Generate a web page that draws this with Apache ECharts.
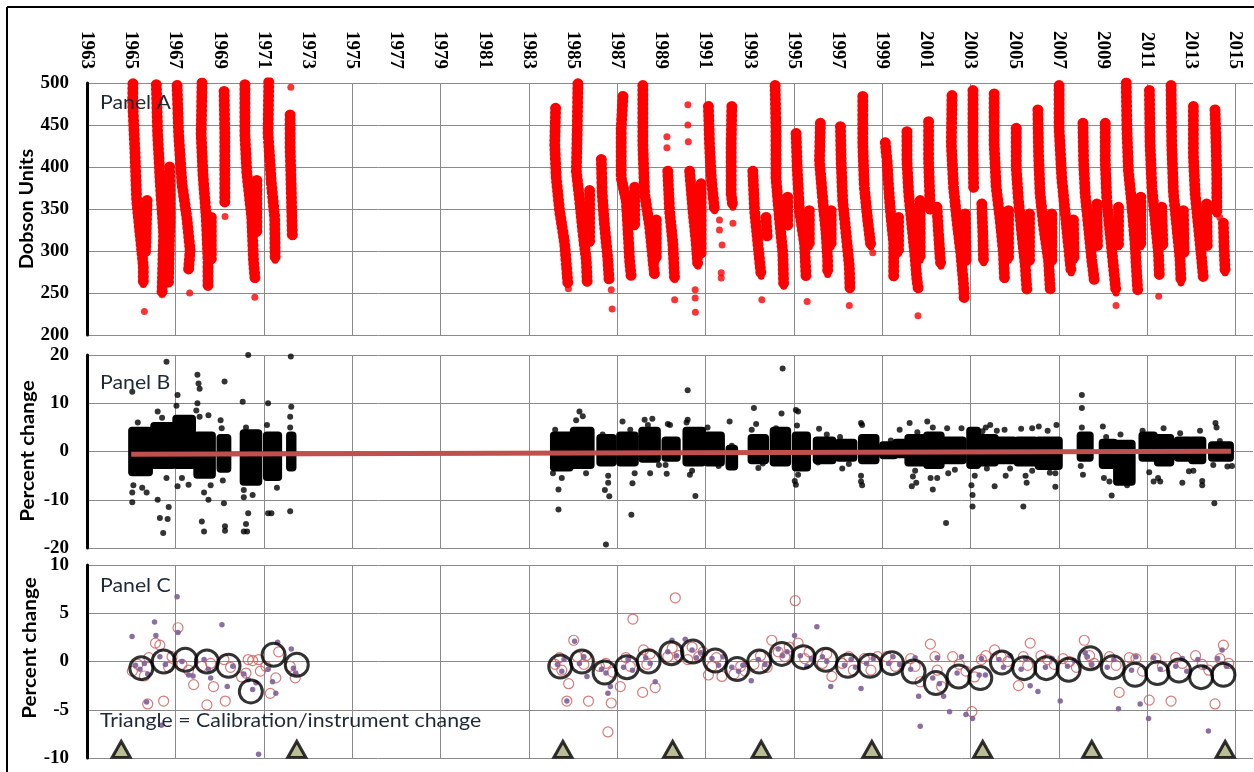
<!DOCTYPE html>
<html>
<head>
<meta charset="utf-8">
<script src="https://cdn.jsdelivr.net/npm/echarts@6/dist/echarts.min.js"></script>
<style>
  html, body { margin: 0; padding: 0; background: #fff; }
  #chart { width: 1254px; height: 772px; }
</style>
</head>
<body>
<div id="chart"></div>
<script>
// x axis
var X_MIN = 1963, X_MAX = 2015.8;
var yearTicks = [1963,1965,1967,1969,1971,1973,1975,1977,1979,1981,1983,1985,1987,1989,
  1991,1993,1995,1997,1999,2001,2003,2005,2007,2009,2011,2013,2015];
var gridYears = [1967,1971,1975,1979,1983,1987,1991,1995,1999,2003,2007,2011,2015];
var panelNames = ['Panel A', 'Panel B', 'Panel C'];

// Panel A - total ozone (Dobson units), each streak read as a run of dots
var ozone1960s = [
  [[1965.08,499],[1965.07,478],[1965.17,419],[1965.25,360],[1965.4,321],[1965.55,282],[1965.55,260]],
  [[1965.72,360],[1965.65,297]],
  [[1966.14,498],[1966.2,439],[1966.32,380],[1966.47,321],[1966.4,250]],
  [[1966.74,400],[1966.76,340],[1966.69,262]],
  [[1967.08,497],[1967.15,439],[1967.3,380],[1967.52,340],[1967.67,301],[1967.6,278]],
  [[1968.21,500],[1968.17,439],[1968.25,392],[1968.4,340],[1968.48,289],[1968.48,257]],
  [[1968.63,340],[1968.63,290]],
  [[1969.21,490],[1969.24,439],[1969.24,392],[1969.24,357]],
  [[1970.15,498],[1970.15,439],[1970.24,392],[1970.46,340],[1970.54,289],[1970.61,266]],
  [[1970.69,384],[1970.69,321]],
  [[1971.23,501],[1971.2,439],[1971.35,380],[1971.5,340],[1971.52,289]],
  [[1972.2,462],[1972.2,423],[1972.25,372],[1972.3,317]]
];
var ozone1980s = [
  [[1984.22,470],[1984.18,427],[1984.25,387],[1984.4,348],[1984.63,309],[1984.75,270],[1984.78,260]],
  [[1985.23,499],[1985.2,446],[1985.16,395],[1985.31,360],[1985.46,321],[1985.61,289],[1985.65,262]],
  [[1985.76,372],[1985.76,309]],
  [[1986.29,409],[1986.33,368],[1986.44,329],[1986.59,289],[1986.64,266]],
  [[1987.27,484],[1987.19,446],[1987.19,387],[1987.42,360],[1987.49,329],[1987.57,289],[1987.64,270]],
  [[1987.8,376],[1987.8,329]],
  [[1988.17,497],[1988.17,427],[1988.25,368],[1988.48,329],[1988.63,289],[1988.7,272]],
  [[1988.78,337],[1988.78,289]],
  [[1989.3,395],[1989.38,348],[1989.53,309],[1989.61,266]],
  [[1990.29,395],[1990.44,348],[1990.59,309],[1990.66,282]],
  [[1990.81,380],[1990.81,297]],
  [[1991.14,472],[1991.19,427],[1991.27,387],[1991.42,348]],
  [[1992.2,472],[1992.17,427],[1992.17,368],[1992.25,352]],
  [[1993.15,395],[1993.23,348],[1993.38,309],[1993.53,270]],
  [[1993.75,340],[1993.8,317]],
  [[1994.16,497],[1994.2,446],[1994.2,387],[1994.36,337],[1994.51,297],[1994.55,258]],
  [[1994.73,364],[1994.73,329]],
  [[1995.11,440],[1995.16,399],[1995.26,348],[1995.49,309],[1995.56,270]],
  [[1995.71,348],[1995.71,305]],
  [[1996.21,452],[1996.17,407],[1996.32,360],[1996.47,321],[1996.54,289],[1996.54,272]],
  [[1996.7,348],[1996.7,305]],
  [[1997.12,448],[1997.15,407],[1997.22,360],[1997.37,321],[1997.52,282],[1997.55,254]],
  [[1998.13,484],[1998.13,427],[1998.2,376],[1998.35,337],[1998.5,305]]
];
var ozone2000s = [
  [[1999.15,429],[1999.23,407],[1999.3,376],[1999.38,348],[1999.53,309],[1999.53,270]],
  [[1999.75,340],[1999.75,297]],
  [[2000.13,442],[2000.13,407],[2000.21,368],[2000.36,329],[2000.51,289],[2000.58,266],[2000.65,254]],
  [[2000.73,360],[2000.73,289]],
  [[2001.11,454],[2001.11,407],[2001.16,368],[2001.19,348]],
  [[2001.49,352],[2001.56,321],[2001.64,289],[2001.67,282]],
  [[2002.17,485],[2002.14,427],[2002.24,376],[2002.39,337],[2002.57,297],[2002.7,258],[2002.72,244]],
  [[2002.77,344],[2002.81,289]],
  [[2003.12,491],[2003.12,427],[2003.15,374]],
  [[2003.52,356],[2003.57,317],[2003.6,286]],
  [[2004.08,487],[2004.08,427],[2004.17,376],[2004.35,337],[2004.5,297],[2004.55,266]],
  [[2004.73,348],[2004.73,289]],
  [[2005.08,446],[2005.08,399],[2005.18,360],[2005.33,321],[2005.49,282],[2005.56,254]],
  [[2005.68,344],[2005.68,289]],
  [[2006.06,468],[2006.09,415],[2006.16,368],[2006.32,329],[2006.54,289],[2006.62,254]],
  [[2006.69,344],[2006.69,289]],
  [[2007.02,497],[2007.02,446],[2007.14,387],[2007.3,344],[2007.45,305],[2007.57,274]],
  [[2007.67,337],[2007.7,289]],
  [[2008.1,452],[2008.13,407],[2008.2,368],[2008.35,329],[2008.5,289],[2008.61,266]],
  [[2008.73,356],[2008.76,305]],
  [[2009.11,452],[2009.11,407],[2009.18,360],[2009.33,321],[2009.48,282],[2009.6,250]],
  [[2009.71,352],[2009.71,305]],
  [[2010.06,500],[2010.09,446],[2010.16,395],[2010.31,356],[2010.46,309],[2010.54,270],[2010.58,254]],
  [[2010.72,364],[2010.72,305]],
  [[2011.11,491],[2011.14,427],[2011.22,376],[2011.37,337],[2011.52,297],[2011.56,270]],
  [[2011.67,352],[2011.72,305]],
  [[2012.09,497],[2012.12,427],[2012.2,368],[2012.35,329],[2012.5,289],[2012.54,262]],
  [[2012.65,348],[2012.68,297]],
  [[2013.1,472],[2013.1,415],[2013.18,368],[2013.33,329],[2013.48,289],[2013.55,268]],
  [[2013.7,356],[2013.73,305]],
  [[2014.08,468],[2014.13,427],[2014.16,387],[2014.16,344]],
  [[2014.46,333],[2014.49,305],[2014.54,274]]
];
var ozoneSingles = [
  [1965.6,228],[1966.7,400],[1967.65,250],[1969.25,341],[1970.6,245],[1972.23,495],[1966.4,248],
  [1984.8,255],[1986.74,254],[1986.78,231],[1987.2,462],[1989.26,436],[1989.26,423],[1989.61,242],
  [1990.21,474],[1990.21,450],[1990.23,430],[1990.54,254],[1990.54,244],[1990.55,227],
  [1991.64,337],[1991.64,325],[1991.76,307],[1991.72,274],[1991.72,268],[1992.25,333],
  [1993.56,242],[1995.61,240],[1997.52,235],[1998.58,298],
  [2000.63,223],[2009.6,235],[2011.53,246],[2014.3,340]
];

// Panel B - percent change: dense day clusters [fromYear, toYear, low, high] and single days
var clustersB = [
  [1965.0,1965.85,-4.5,4.5],[1966.0,1966.9,-3,5.5],[1967.0,1967.8,-3,7],[1967.95,1968.7,-5,3.5],
  [1969.0,1969.4,-3.8,3],[1970.05,1970.8,-6.5,4],[1971.1,1971.7,-5.5,3.5],[1972.15,1972.35,-3.5,3.5],
  [1984.1,1984.9,-3.5,3.5],[1985.0,1985.85,-3,4.5],[1986.2,1986.85,-2.5,3],[1987.1,1987.85,-2.5,3.5],
  [1988.1,1988.85,-1.7,4.5],[1989.15,1989.75,-1.5,2.5],[1990.1,1990.9,-2.5,4.5],[1991.05,1991.75,-2.5,3.5],
  [1992.05,1992.35,-3.3,0.8],[1993.05,1993.75,-2,3],[1994.05,1994.75,-2.5,4.5],[1995.05,1995.65,-3.5,3.5],
  [1996.0,1996.8,-2,2.5],[1997.0,1997.75,-1.5,2],[1998.05,1998.75,-2,3],
  [1999.0,1999.6,-1,1.5],[1999.6,2000.1,-0.8,2],[2000.15,2000.9,-2.5,3],[2001.0,2001.7,-3,3.5],
  [2001.75,2002.7,-2,2.5],[2002.95,2003.35,-3,4.5],[2003.4,2004.15,-2.5,3],[2004.25,2005.0,-2,2.5],
  [2005.1,2005.95,-2.5,2.5],[2006.05,2007.05,-3.2,2.5],[2007.95,2008.45,-1.5,3.5],[2008.95,2009.55,-3,2],
  [2009.6,2010.35,-6.5,1.8],[2010.75,2011.35,-1.5,3.5],[2011.45,2012.1,-2.5,3],[2012.35,2012.95,-1.5,2.5],
  [2013.0,2013.55,-2,2.5],[2013.9,2014.8,-1.5,1.5]
];
var singlesB = [
  [1965.05,12.4],[1965.1,-7],[1965.05,-8.5],[1965.05,-10.5],[1965.3,6],[1965.5,-7.5],[1965.7,-8.5],
  [1966.6,18.6],[1966.2,8.3],[1966.4,7],[1966.2,-10],[1966.3,-13.8],[1966.65,-14],[1966.45,-16.9],[1966.7,-11.5],[1966.6,-5.5],
  [1967.1,11.7],[1967.05,9.5],[1967.1,-7.2],[1967.6,-6.9],[1967.3,-5.5],
  [1968.0,15.9],[1968.05,14.1],[1968.1,13],[1968.0,10],[1968.1,7.2],[1967.95,8.5],[1968.5,7.5],[1969.23,14.5],
  [1968.3,-8.5],[1968.5,-10],[1968.2,-14.5],[1968.3,-16.6],[1968.6,-7],
  [1969.05,6.5],[1969.1,4.8],[1969.2,-10.7],[1969.25,-15.5],[1969.25,-16.4],[1969.15,-6],
  [1970.3,20],[1970.05,10.3],[1970.2,5],[1970.1,-8],[1970.1,-9.5],[1970.3,-12.8],[1970.2,-15],[1970.1,-16.6],[1970.25,-16.6],[1970.5,-9],
  [1971.2,10],[1971.15,5.5],[1971.2,-12.8],[1971.35,-12.8],[1971.6,-7.5],
  [1972.23,19.7],[1972.25,9.3],[1972.2,7.2],[1972.2,5],[1972.2,-12.4],
  [1984.2,4.5],[1984.5,-5.5],[1984.35,-7.9],[1984.35,-12],[1984.1,-4.5],
  [1985.3,8.3],[1985.45,7.3],[1985.15,6.5],[1985.6,-4.5],
  [1986.35,3.5],[1986.6,-5],[1986.6,-6.5],[1986.65,-9.3],[1986.5,-19.3],[1986.45,-8],
  [1987.25,6.2],[1987.6,4.5],[1987.8,-4.5],[1987.7,-6.6],[1987.65,-13.1],
  [1988.25,6.6],[1988.4,5.5],[1988.5,-4.5],[1988.9,-2.8],[1988.6,6.8],
  [1989.3,5.7],[1989.4,5.5],[1989.2,-2.8],[1989.25,-4.6],
  [1990.2,12.7],[1990.2,6.6],[1990.15,6],[1990.3,-4.8],[1990.55,-9.2],[1990.4,-4],
  [1991.1,5],[1991.6,-3],[1992.1,6.2],[1992.2,1.2],
  [1993.1,4.5],[1993.3,5.7],[1993.2,9],[1993.4,-3.4],[1993.6,-2.5],
  [1994.5,17.2],[1994.45,7.9],[1994.2,4.8],[1994.5,-2.3],
  [1995.1,8.6],[1995.2,8.3],[1995.15,5.4],[1995.1,-6.9],[1995.05,-6.1],[1995.2,-4.8],
  [1996.15,4.7],[1996.5,3.5],[1996.1,-2.3],[1997.1,3],[1997.5,-2.6],[1997.2,-3.5],
  [1998.05,5.9],[1998.1,5.5],[1998.05,-5],[1998.05,-6.2],[1998.1,-7],
  [1999.4,2.3],[1999.8,4.5],
  [2000.25,5.9],[2000.6,4],[2000.5,-4],[2000.4,-5.2],[2000.35,-7.2],[2000.55,-6.5],
  [2001.05,6.2],[2001.3,5],[2001.2,-5.5],[2001.3,-7.9],[2001.5,-5.5],
  [2001.95,4.8],[2002.6,4.8],[2002.0,-4.5],[2001.9,-14.8],[2002.3,-3.8],
  [2003.05,-7],[2003.1,-9],[2003.1,-11.4],[2003.2,-5],
  [2003.7,5],[2003.55,4.2],[2003.9,5.5],[2004.2,4.3],[2004.1,-7.2],[2003.75,-3.5],
  [2004.55,4.5],[2004.6,-5],[2004.8,-3.5],
  [2005.3,4.7],[2005.8,4.8],[2005.5,-5],[2005.55,-6.5],[2005.4,-11.4],[2005.8,-4],
  [2006.1,5.2],[2006.5,4.3],[2006.9,5.5],[2006.85,-4.5],[2006.85,-7.3],[2006.6,-4.4],
  [2008.05,11.7],[2008.05,9],[2008.05,5],[2008.1,-4.8],[2008.0,-3],
  [2009.0,5.2],[2009.05,-5.5],[2009.3,-6.2],[2009.4,-9.1],[2009.15,3],
  [2009.8,3.5],[2010.1,-7],[2009.95,-5.8],
  [2010.8,4.3],[2011.1,-4.3],[2011.3,-6.2],
  [2011.5,-5.5],[2011.75,4.8],[2011.6,-6.2],
  [2012.5,3.8],[2012.6,-6.5],[2012.9,-4.1],
  [2013.4,4.3],[2013.1,-4],[2013.5,-6.1],[2013.5,-7],
  [2014.1,5.9],[2014.15,5],[2014.0,-2.8],[2014.05,-10.7],[2014.85,-3],[2014.3,2.2],[2014.64,-3.1]
];
var zeroLineB = [[1965.0,-0.55],[2014.8,0.05]];

// Panel C - percent change
var annualC = [
  [1965.46,-0.69],[1966.47,0],[1967.45,0.17],[1968.43,0],[1969.41,-0.45],[1970.42,-3.1],[1971.45,0.69],[1972.5,-0.34],
  [1984.43,-0.52],[1985.41,0],[1986.44,-1.14],[1987.45,-0.59],[1988.43,0],[1989.46,0.86],[1990.44,1.03],
  [1991.45,0.1],[1992.44,-0.79],[1993.44,0],[1994.46,0.79],[1995.44,0.45],[1996.45,0.17],[1997.45,-0.45],[1998.46,-0.45],
  [1999.45,-0.17],[2000.43,-1.03],[2001.44,-2.24],[2002.47,-1.55],[2003.45,-1.72],[2004.43,-0.1],[2005.44,-0.69],
  [2006.44,-0.69],[2007.45,-0.86],[2008.43,0.34],[2009.45,-0.59],[2010.46,-1.38],[2011.47,-1.2],[2012.45,-0.93],
  [2013.45,-1.62],[2014.46,-1.38]
];
var openC = [
  [1965.05,-1.0],[1965.3,-0.3],[1965.6,-1.5],[1965.8,0.4],[1965.75,-4.4],
  [1966.1,1.9],[1966.3,1.7],[1966.47,-4.1],[1966.7,-0.6],[1966.85,0.5],
  [1967.12,3.5],[1967.3,-0.3],[1967.6,-0.9],[1967.83,-2.4],
  [1968.2,-0.5],[1968.43,-4.5],[1968.73,-2.6],[1968.6,-0.2],
  [1969.26,-4.1],[1969.5,-0.6],[1969.2,0.2],
  [1970.0,-1.6],[1970.3,0.2],[1970.5,0.1],[1970.77,0.2],[1970.85,-1.0],[1970.2,-1.2],
  [1971.3,-3.3],[1971.68,1.0],[1971.55,-1.7],[1971.1,-0.5],
  [1972.43,-1.7],[1972.2,-0.5],
  [1984.2,-0.3],[1984.5,-0.9],[1984.81,-2.3],[1984.73,-4.1],[1984.4,0.4],
  [1985.04,2.2],[1985.2,0.5],[1985.5,-0.3],[1985.71,-4.1],[1985.6,0.6],
  [1986.2,-0.5],[1986.59,-7.3],[1986.74,-4.3],[1986.5,-0.2],[1986.8,-1.1],
  [1987.15,-2.6],[1987.72,4.4],[1987.4,0.4],[1987.6,-0.5],
  [1988.16,-3.2],[1988.2,1.2],[1988.73,-2.7],[1988.5,0.8],[1988.35,-0.3],
  [1989.64,6.6],[1989.3,0.5],[1989.5,1.4],[1989.8,0.6],
  [1990.2,0.2],[1990.4,1.5],[1990.7,0.5],[1990.9,1.0],
  [1991.14,-1.4],[1991.5,0.4],[1991.75,-1.55],[1991.3,-0.5],
  [1992.3,-1.3],[1992.6,-0.5],[1992.8,-1.0],
  [1993.2,-0.3],[1993.5,0.6],[1993.8,-0.6],
  [1994.01,2.2],[1994.3,1.0],[1994.6,0.5],[1994.8,1.5],
  [1995.07,6.3],[1995.2,1.9],[1995.5,0.3],[1995.7,1.0],
  [1996.3,-0.2],[1996.73,-1.55],[1996.5,0.8],
  [1997.2,-0.2],[1997.5,0.5],[1997.7,-0.9],
  [1998.2,0.3],[1998.5,-0.9],[1998.8,0.5],
  [1999.2,0.5],[1999.6,-0.5],
  [2000.3,0.3],[2000.73,-2.1],[2000.5,-0.5],
  [2001.19,1.8],[2001.4,0.5],[2001.7,-2.6],[2001.5,-0.9],
  [2002.2,0.5],[2002.5,-0.3],[2002.8,-1.0],
  [2003.07,-5.2],[2003.19,-1.6],[2003.5,0.2],[2003.7,0.6],
  [2004.1,1.2],[2004.4,0.5],[2004.7,0.0],
  [2005.18,-2.5],[2005.4,0.5],[2005.71,1.9],[2005.6,-0.4],
  [2006.2,0.6],[2006.5,0.2],[2006.8,-0.3],
  [2007.2,0.3],[2007.5,0.0],[2007.8,-0.6],
  [2008.16,2.2],[2008.4,0.6],[2008.6,-0.2],
  [2009.3,0.5],[2009.74,-3.2],[2009.6,-0.4],
  [2010.2,0.4],[2010.5,0.3],[2010.8,-1.0],
  [2011.1,-4.0],[2011.4,0.3],[2011.7,-0.5],
  [2012.09,-4.1],[2012.3,0.4],[2012.6,-0.2],
  [2013.2,0.6],[2013.5,-0.3],[2013.8,-0.9],
  [2014.08,-4.4],[2014.46,1.7],[2014.3,0.3],[2014.7,-0.2]
];
var dotsC = [
  [1965.04,2.6],[1965.2,-0.4],[1965.4,-0.8],[1965.6,-0.2],[1965.75,-1.3],[1965.7,-4.2],
  [1966.06,4.1],[1966.12,2.7],[1966.3,0.5],[1966.55,-0.3],[1966.37,-6.6],
  [1967.08,6.7],[1967.12,3.0],[1967.3,0.0],[1967.6,-1.4],[1967.8,-1.5],
  [1968.3,0.2],[1968.5,-0.8],[1968.6,-1.7],
  [1969.11,3.8],[1969.35,-2.6],[1969.6,-0.5],
  [1970.1,-1.3],[1970.3,-1.9],[1970.5,-2.9],[1970.65,-2.2],[1970.77,-9.6],
  [1971.2,-0.8],[1971.4,-2.1],[1971.55,-3.3],[1971.63,2.0],
  [1972.25,1.3],[1972.35,-0.7],[1972.45,-1.2],
  [1984.3,-0.3],[1984.5,-1.0],[1984.73,-4.1],[1984.6,0.2],
  [1985.08,2.1],[1985.3,-0.2],[1985.64,-1.55],[1985.5,0.5],
  [1986.3,-0.8],[1986.59,-3.3],[1986.7,-2.6],[1986.5,-1.2],
  [1987.3,-0.6],[1987.5,0.2],[1987.7,-0.9],
  [1988.3,0.4],[1988.73,-2.1],[1988.5,-0.2],
  [1989.49,2.2],[1989.3,1.0],[1989.7,0.6],
  [1990.09,2.3],[1990.4,1.2],[1990.6,0.4],[1990.8,0.9],
  [1991.3,0.3],[1991.6,-0.4],[1991.8,0.5],
  [1992.2,-0.6],[1992.5,-1.0],[1992.7,-0.4],
  [1993.08,-2.0],[1993.4,0.2],[1993.7,-0.3],
  [1994.3,1.3],[1994.5,0.6],[1994.7,1.0],
  [1995.04,2.7],[1995.3,0.6],[1995.6,-0.5],[1995.8,0.3],
  [1996.05,3.6],[1996.3,0.5],[1996.68,-2.6],[1996.5,0.0],
  [1997.3,-0.4],[1997.6,0.2],[1997.8,-0.6],
  [1998.05,-2.8],[1998.3,-0.2],[1998.6,0.3],
  [1999.3,-0.2],[1999.5,0.5],[1999.8,-0.3],
  [2000.3,-0.8],[2000.66,-3.6],[2000.73,-6.7],[2000.5,0.4],
  [2001.3,-1.7],[2001.6,-2.3],[2001.79,-3.6],[2001.5,0.4],
  [2002.06,-5.2],[2002.4,-1.2],[2002.8,-5.5],[2002.6,0.5],
  [2003.1,-5.9],[2003.4,-1.4],[2003.68,-1.4],[2003.5,0.3],
  [2004.3,0.2],[2004.5,-0.6],[2004.8,0.6],
  [2005.3,-0.8],[2005.71,-2.5],[2005.5,0.3],
  [2006.06,-3.1],[2006.4,-0.6],[2006.7,0.3],
  [2007.07,-4.1],[2007.4,-0.5],[2007.7,0.1],
  [2008.3,0.5],[2008.5,-0.3],[2008.2,0.9],
  [2009.2,-0.6],[2009.71,-4.9],[2009.5,0.2],
  [2010.3,-0.9],[2010.69,-4.4],[2010.5,0.5],
  [2011.07,-5.9],[2011.3,0.4],[2011.6,-0.8],
  [2012.3,-0.5],[2012.6,0.3],[2012.8,-1.0],
  [2013.3,0.2],[2013.6,-0.6],[2013.78,-7.2],
  [2014.4,1.2],[2014.2,0.3],[2014.6,-0.5]
];
var calibYears = [1964.55, 1972.5, 1984.55, 1989.52, 1993.53, 1998.54, 2003.56, 2008.5, 2014.54];
var calibLevel = -9.1;

var GRID_COLOR = '#8a8a8a';
var serif = 'Liberation Serif';
var sans = 'Lato';

var chart = echarts.init(document.getElementById('chart'));

function xAxisFor(i, withLabels) {
  return {
    type: 'value', gridIndex: i, min: X_MIN, max: X_MAX, interval: 1, position: 'top',
    axisLine: { show: false }, axisTick: { show: false }, splitLine: { show: false },
    axisLabel: withLabels ? {
      show: true, rotate: 90, margin: 14, color: '#000',
      fontFamily: serif, fontWeight: 'bold', fontSize: 19,
      formatter: function (v) {
        var r = Math.round(v);
        return (Math.abs(v - r) < 1e-6 && yearTicks.indexOf(r) >= 0) ? String(r) : '';
      }
    } : { show: false }
  };
}
function yAxisFor(i, min, max, step) {
  return {
    type: 'value', gridIndex: i, min: min, max: max, interval: step,
    axisLine: { show: true, lineStyle: { color: '#000', width: 3 } },
    axisTick: { show: false },
    splitLine: { show: true, lineStyle: { color: GRID_COLOR, width: 1 } },
    axisLabel: { color: '#000', fontFamily: serif, fontWeight: 'bold', fontSize: 19, margin: 18 }
  };
}
function vGrid(i) {
  return {
    type: 'custom', xAxisIndex: i, yAxisIndex: i, silent: true, z: 1,
    data: gridYears.map(function (y) { return [y, 0]; }),
    encode: { x: 0, y: 1 },
    renderItem: function (params, api) {
      var cs = params.coordSys;
      var x = Math.round(api.coord([api.value(0), 0])[0]) + 0.5;
      return { type: 'line', shape: { x1: x, y1: cs.y, x2: x, y2: cs.y + cs.height },
        style: { stroke: GRID_COLOR, lineWidth: 1 } };
    }
  };
}
function label(text, x, y, rot, font, sx) {
  return { type: 'text', x: x, y: y, rotation: rot, scaleX: sx, z: 100,
    style: { text: text, font: font, fill: rot ? '#000' : '#1f2836',
      align: rot ? 'center' : 'left', verticalAlign: 'middle' } };
}

var streaks = ozone1960s.concat(ozone1980s, ozone2000s);

var option = {
  animation: false,
  backgroundColor: '#fff',
  grid: [
    { left: 87, right: 1, top: 83, height: 252 },
    { left: 87, right: 1, top: 355, height: 193 },
    { left: 87, right: 1, top: 565, height: 193 }
  ],
  xAxis: [xAxisFor(0, true), xAxisFor(1, false), xAxisFor(2, false)],
  yAxis: [yAxisFor(0, 200, 500, 50), yAxisFor(1, -20, 20, 10), yAxisFor(2, -10, 10, 5)],
  series: [
    vGrid(0), vGrid(1), vGrid(2),
    {
      type: 'lines', coordinateSystem: 'cartesian2d', xAxisIndex: 0, yAxisIndex: 0,
      polyline: true, silent: true, z: 3,
      data: streaks.map(function (c) { return { coords: c }; }),
      lineStyle: { color: '#ff0000', width: 11, opacity: 1, cap: 'round', join: 'round',
        type: [0.1, 4.5] }
    },
    {
      type: 'lines', coordinateSystem: 'cartesian2d', xAxisIndex: 0, yAxisIndex: 0,
      polyline: true, silent: true, z: 3,
      data: streaks.map(function (c) { return { coords: c }; }),
      lineStyle: { color: '#ff0000', width: 7, opacity: 1, cap: 'round', join: 'round' }
    },
    {
      type: 'scatter', xAxisIndex: 0, yAxisIndex: 0, z: 3, silent: true,
      data: ozoneSingles, symbolSize: 7, itemStyle: { color: '#ff0000' }
    },
    {
      type: 'custom', xAxisIndex: 1, yAxisIndex: 1, z: 3, silent: true,
      data: clustersB, encode: { x: [0, 1], y: [2, 3] },
      renderItem: function (params, api) {
        var p0 = api.coord([api.value(0), api.value(3)]);
        var p1 = api.coord([api.value(1), api.value(2)]);
        return { type: 'rect',
          shape: { x: p0[0] - 3, y: p0[1] - 3, width: p1[0] - p0[0] + 6, height: p1[1] - p0[1] + 6, r: 4 },
          style: { fill: '#000' } };
      }
    },
    {
      type: 'scatter', xAxisIndex: 1, yAxisIndex: 1, z: 3, silent: true,
      data: singlesB, symbolSize: 6, itemStyle: { color: '#000' }
    },
    {
      type: 'line', xAxisIndex: 1, yAxisIndex: 1, z: 5, silent: true,
      data: zeroLineB, symbol: 'none', lineStyle: { color: '#c0504d', width: 5 }
    },
    {
      type: 'scatter', xAxisIndex: 2, yAxisIndex: 2, z: 3, silent: true,
      data: openC, symbolSize: 10,
      itemStyle: { color: 'rgba(255,255,255,0)', borderColor: '#cc5a58', borderWidth: 1.2 }
    },
    {
      type: 'scatter', xAxisIndex: 2, yAxisIndex: 2, z: 4, silent: true,
      data: dotsC, symbolSize: 5.5, itemStyle: { color: '#7e5f97', opacity: 0.9 }
    },
    {
      type: 'scatter', xAxisIndex: 2, yAxisIndex: 2, z: 5, silent: true,
      data: annualC, symbolSize: 23,
      itemStyle: { color: 'rgba(0,0,0,0)', borderColor: '#000', borderWidth: 3 }
    },
    {
      type: 'scatter', xAxisIndex: 2, yAxisIndex: 2, z: 6, silent: true,
      data: calibYears.map(function (y) { return [y, calibLevel]; }),
      symbol: 'triangle', symbolSize: [18, 16],
      itemStyle: { color: '#a9ad7a', borderColor: '#000', borderWidth: 3 }
    }
  ],
  graphic: [
    { type: 'line', shape: { x1: 7, y1: 7, x2: 1254, y2: 7 }, style: { stroke: '#000', lineWidth: 2 }, z: 100 },
    { type: 'line', shape: { x1: 7, y1: 7, x2: 7, y2: 772 }, style: { stroke: '#000', lineWidth: 2 }, z: 100 },
    label(panelNames[0], 100, 103, 0, '19px ' + sans, 1.12),
    label(panelNames[1], 100, 383, 0, '19px ' + sans, 1.12),
    label(panelNames[2], 100, 586, 0, '19px ' + sans, 1.12),
    label('Triangle = Calibration/instrument change', 100, 721, 0, '19px ' + sans, 1.12),
    label('Dobson Units', 27, 209, Math.PI / 2, 'bold 18px ' + sans, 1.1),
    label('Percent change', 28, 451, Math.PI / 2, 'bold 18px ' + sans, 1.15),
    label('Percent change', 30, 648, Math.PI / 2, 'bold 18px ' + sans, 1.15)
  ]
};
chart.setOption(option);
</script>
</body>
</html>
